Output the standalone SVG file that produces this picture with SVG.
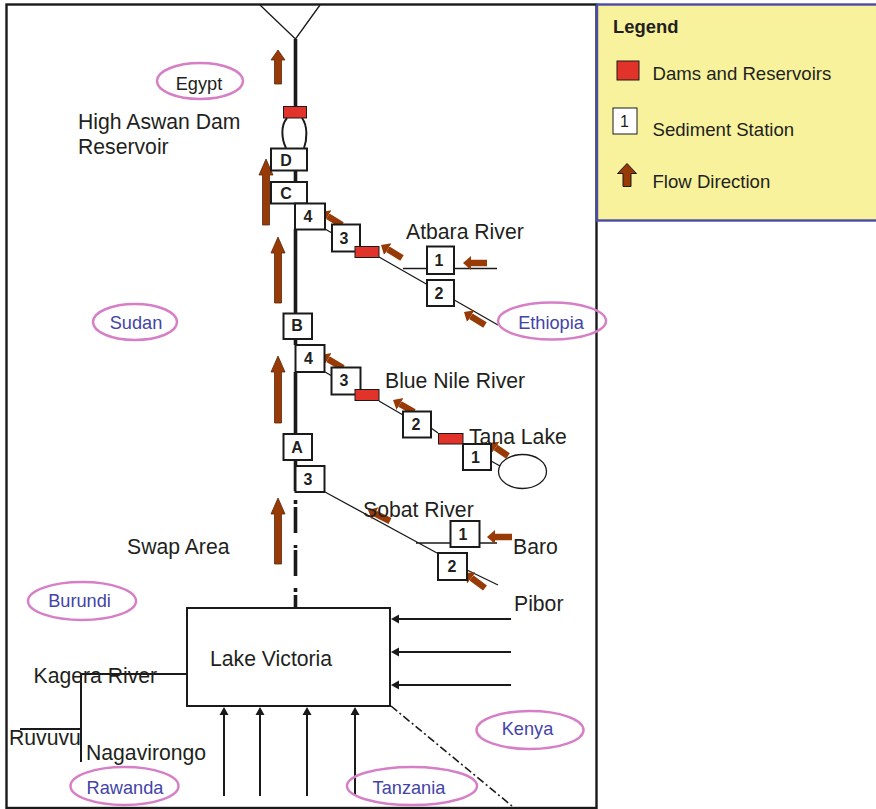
<svg xmlns="http://www.w3.org/2000/svg" width="876" height="809" viewBox="0 0 876 809">
<style>
text{font-family:"Liberation Sans",Arial,sans-serif;fill:#231f20}
.lab{font-size:21.2px}
.leg{font-size:18.6px}
.cty{font-size:18.2px;fill:#4343a8;text-anchor:middle}
.ell{fill:none;stroke:#d77fc6;stroke-width:2.5}
.st{fill:#fff;stroke:#1a1a1a;stroke-width:2}
.stt{font-size:16px;font-weight:bold;text-anchor:middle}
.dam{fill:#e2332a;stroke:#1a1a1a;stroke-width:1}
.thin{fill:none;stroke:#1a1a1a;stroke-width:1.3}
.med{fill:none;stroke:#1a1a1a;stroke-width:2}
.up{fill:#973a06;stroke:#5a2a10;stroke-width:.8}
.diag{stroke:#973a06;stroke-width:6.500;marker-end:url(#smallHead)}
.inflow{stroke:#1a1a1a;stroke-width:2;marker-end:url(#blackHead)}
</style>
<defs>
<marker id="smallHead" markerUnits="userSpaceOnUse" markerWidth="10" markerHeight="16" refX="0" refY="8" orient="auto"><path d="M0 1 L8 8 L0 15Z" fill="#973a06"/></marker>
<marker id="blackHead" markerUnits="userSpaceOnUse" markerWidth="10" markerHeight="12" refX="0" refY="6" orient="auto"><path d="M0 1.500 L8 6 L0 10.500Z" fill="#1a1a1a"/></marker>
</defs>
<rect width="876" height="809" fill="#fff"/>
<rect id="frame" x="6.500" y="4.500" width="590" height="803.500" fill="none" stroke="#1a1a1a" stroke-width="2.400"/>

<g id="connectors">
<path class="thin" d="M260 5L295.500 39L320 5"/>
<path d="M295.500 39V106M295.500 170V182M295.500 229V345M295.500 372V434M295.500 460V491" fill="none" stroke="#1a1a1a" stroke-width="3.600"/>
<path d="M295.500 500V504M295.500 507V533M295.500 545V548M295.500 550V576M295.500 588V592M295.500 595V608" fill="none" stroke="#1a1a1a" stroke-width="3.600"/>
<path class="thin" d="M325 229L332 233M379 257L498 325M403 268.500H497M325 372L332 376M379 401L403 415M431 428L438 433M463 444H491M491 461L500 466M325 492L437 553M416 543H497M467 570L498 585"/>
<path class="med" d="M187 674H81V762M81 729H20"/>
<path d="M391 706L512 806" fill="none" stroke="#1a1a1a" stroke-width="1.600" stroke-dasharray="8 3 2 3"/>
<line class="inflow" x1="511" y1="619" x2="399" y2="619"/>
<line class="inflow" x1="511" y1="652" x2="399" y2="652"/>
<line class="inflow" x1="511" y1="685" x2="399" y2="685"/>
<line class="inflow" x1="224" y1="796" x2="224" y2="715"/>
<line class="inflow" x1="260" y1="796" x2="260" y2="715"/>
<line class="inflow" x1="307" y1="796" x2="307" y2="715"/>
<line class="inflow" x1="355" y1="796" x2="355" y2="715"/>
</g>

<g id="flow-arrows">
<path class="up" d="M278 50L285 60H281.500V84H274.500V60H271Z"/>
<path class="up" d="M266 159L273 175H269.500V225H262.500V175H259Z"/>
<path class="up" d="M278 237L285 253H281.500V303H274.500V253H271Z"/>
<path class="up" d="M278 356L285 372H281.500V423H274.500V372H271Z"/>
<path class="up" d="M278 498L285 514H281.500V564H274.500V514H271Z"/>
<line class="diag" x1="342" y1="225" x2="327.800" y2="216.200"/>
<line class="diag" x1="402" y1="258" x2="387.800" y2="249.200"/>
<line class="diag" x1="487" y1="263" x2="471" y2="263"/>
<line class="diag" x1="485" y1="325" x2="470.800" y2="316.200"/>
<line class="diag" x1="343" y1="368" x2="327.900" y2="359.100"/>
<line class="diag" x1="414" y1="412" x2="400" y2="404"/>
<line class="diag" x1="508" y1="456" x2="495.600" y2="447.500"/>
<line class="diag" x1="390" y1="521" x2="375.200" y2="513.600"/>
<line class="diag" x1="512" y1="537" x2="495" y2="537"/>
<line class="diag" x1="485" y1="588" x2="471.400" y2="577.800"/>
</g>

<g id="dam-aswan"><rect class="dam" x="283.500" y="106.500" width="23" height="11.500"/></g>
<g id="reservoir-aswan"><path class="med" d="M287 118C280 126 282 140 286 148M302 118C308 126 307 140 304 148"/></g>
<g id="station-D"><rect class="st" x="271" y="148.500" width="36" height="22"/><text class="stt" x="286" y="165.500">D</text></g>
<g id="station-C"><rect class="st" x="271" y="182" width="36" height="21.500"/><text class="stt" x="286" y="199">C</text></g>
<g id="atbara-4"><rect class="st" x="295" y="203.500" width="30" height="26"/><text class="stt" x="308" y="222">4</text></g>
<g id="atbara-3"><rect class="st" x="332" y="224.500" width="28" height="27"/><text class="stt" x="344" y="243.500">3</text></g>
<g id="atbara-dam"><rect class="dam" x="355" y="246.500" width="24" height="11"/></g>
<g id="atbara-1"><rect class="st" x="427" y="246.500" width="27" height="27.500"/><text class="stt" x="439" y="266">1</text></g>
<g id="atbara-2"><rect class="st" x="427" y="280" width="27" height="26"/><text class="stt" x="439" y="298.500">2</text></g>
<g id="station-B"><rect class="st" x="283.500" y="313.500" width="28.500" height="25.500"/><text class="stt" x="297" y="330.500">B</text></g>
<g id="blue-4"><rect class="st" x="295.500" y="345" width="29" height="27"/><text class="stt" x="308.500" y="363.500">4</text></g>
<g id="blue-3"><rect class="st" x="331.500" y="367.500" width="29" height="27"/><text class="stt" x="344" y="385.500">3</text></g>
<g id="blue-dam-1"><rect class="dam" x="355" y="389.500" width="24" height="11"/></g>
<g id="blue-2"><rect class="st" x="403" y="411.500" width="28" height="26"/><text class="stt" x="416" y="429.500">2</text></g>
<g id="blue-dam-2"><rect class="dam" x="438.500" y="433.500" width="24.500" height="10.500"/></g>
<g id="blue-1"><rect class="st" x="463" y="444" width="28" height="26"/><text class="stt" x="475.500" y="462.500">1</text></g>
<g id="tana-lake"><ellipse cx="522.500" cy="471.500" rx="24" ry="17" fill="#fff" stroke="#1a1a1a" stroke-width="1.300"/></g>
<g id="station-A"><rect class="st" x="283.500" y="434" width="28.500" height="26"/><text class="stt" x="297" y="452.500">A</text></g>
<g id="sobat-3"><rect class="st" x="295.500" y="466" width="29" height="26"/><text class="stt" x="308" y="484.500">3</text></g>
<g id="sobat-1"><rect class="st" x="450.500" y="521" width="29" height="26"/><text class="stt" x="463" y="539.500">1</text></g>
<g id="sobat-2"><rect class="st" x="438" y="553" width="29" height="27"/><text class="stt" x="452" y="571.500">2</text></g>
<g id="lake-victoria"><rect x="187" y="608" width="203" height="98" fill="none" stroke="#1a1a1a" stroke-width="2"/><text class="lab" x="210" y="665.500">Lake Victoria</text></g>

<g id="labels">
<text class="lab" x="78" y="128.500">High Aswan Dam</text>
<text class="lab" x="78" y="153.500">Reservoir</text>
<text class="lab" x="406" y="238.500">Atbara River</text>
<text class="lab" x="385" y="387.500">Blue Nile River</text>
<text class="lab" x="469" y="444">Tana Lake</text>
<text class="lab" x="363" y="516.500">Sobat River</text>
<text class="lab" x="513" y="553.500">Baro</text>
<text class="lab" x="514" y="610.500">Pibor</text>
<text class="lab" x="127" y="553.500">Swap Area</text>
<text class="lab" x="33.500" y="683">Kagera River</text>
<text class="lab" x="9" y="744.500">Ruvuvu</text>
<text class="lab" x="86" y="759.500">Nagavirongo</text>
</g>

<g id="country-egypt"><ellipse class="ell" cx="200" cy="81" rx="43" ry="18"/><text class="cty" style="fill:#231f20" x="199" y="90">Egypt</text></g>
<g id="country-sudan"><ellipse class="ell" cx="135" cy="322" rx="42" ry="18"/><text class="cty" x="136" y="329">Sudan</text></g>
<g id="country-ethiopia"><ellipse class="ell" cx="552" cy="321" rx="54" ry="18.500"/><text class="cty" x="551" y="329">Ethiopia</text></g>
<g id="country-burundi"><ellipse class="ell" cx="82" cy="601" rx="54" ry="19"/><text class="cty" x="79.500" y="607">Burundi</text></g>
<g id="country-rawanda"><ellipse class="ell" cx="124.500" cy="786" rx="54" ry="19"/><text class="cty" x="125" y="794">Rawanda</text></g>
<g id="country-tanzania"><ellipse class="ell" cx="412" cy="786" rx="65" ry="19"/><text class="cty" x="409" y="794">Tanzania</text></g>
<g id="country-kenya"><ellipse class="ell" cx="530" cy="730" rx="53.500" ry="19"/><text class="cty" x="527.500" y="735">Kenya</text></g>

<g id="legend">
<rect x="597" y="4.500" width="290" height="216" fill="#f7f29b" stroke="#4a4ba6" stroke-width="2.400"/>
<text x="613" y="33" style="font-size:18.400px;font-weight:bold">Legend</text>
<rect class="dam" x="617" y="61" width="22" height="19"/>
<text class="leg" x="652.500" y="79.500">Dams and Reservoirs</text>
<rect x="613" y="108" width="24" height="26" fill="#fff" stroke="#1a1a1a" stroke-width="1"/>
<text x="624.500" y="127" style="font-size:16px;text-anchor:middle">1</text>
<text class="leg" x="652.500" y="135.500">Sediment Station</text>
<path d="M627 163.500L636.500 173.500H631V186.500H623V173.500H617.500Z" fill="#973a06" stroke="#1a1a1a" stroke-width="1"/>
<text class="leg" x="652.500" y="187.500">Flow Direction</text>
</g>
</svg>
